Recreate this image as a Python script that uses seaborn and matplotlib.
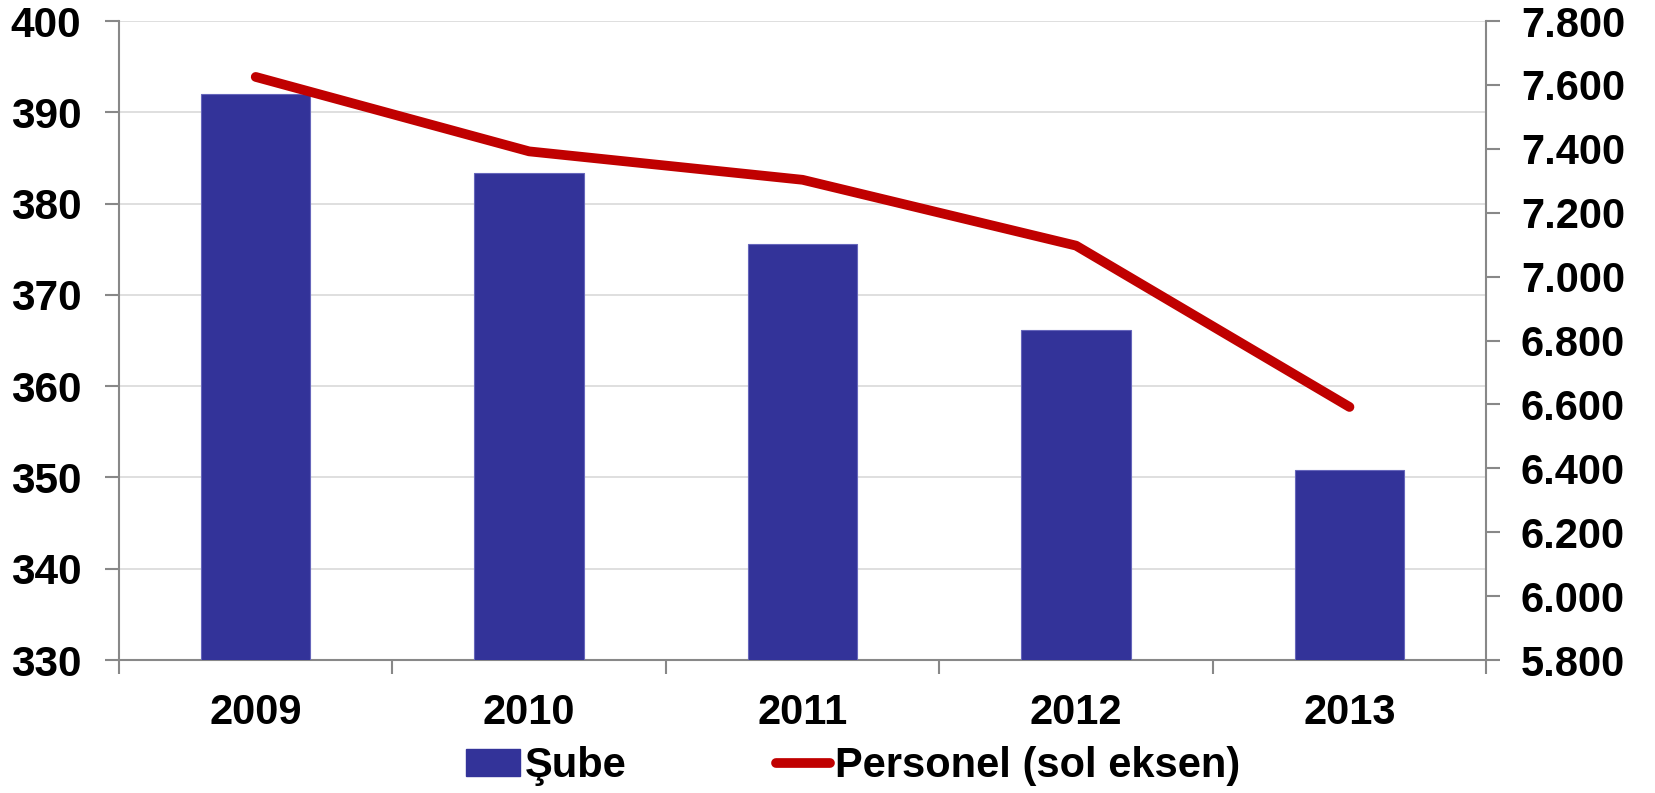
import numpy as np
import pandas as pd
import matplotlib
matplotlib.use("Agg")
import matplotlib.pyplot as plt
import seaborn as sns
from matplotlib.patches import Patch
from matplotlib.lines import Line2D
from matplotlib.ticker import FuncFormatter, FixedLocator

# ---- data ----
years = ["2009", "2010", "2011", "2012", "2013"]
sube = [392.0, 383.3, 375.6, 366.1, 350.8]
personel = [7625, 7392, 7303, 7097, 6592]
left_ticks = [330, 340, 350, 360, 370, 380, 390, 400]
right_ticks = [5800, 6000, 6200, 6400, 6600, 6800, 7000, 7200, 7400, 7600, 7800]
labels = ["Şube", "Personel (sol eksen)"]

BAR = "#333399"
LINE = "#C00000"
SPINE = "#888888"
GRID = "#D9D9D9"

sns.set_theme(style="white")
plt.rcParams["font.family"] = ["Liberation Sans", "DejaVu Sans"]
plt.rcParams["font.weight"] = "bold"
plt.rcParams["text.color"] = "black"

df = pd.DataFrame({"year": years, "sube": sube, "personel": personel})

fig = plt.figure(figsize=(16.55, 7.93), dpi=100)
ax = fig.add_axes([0.0719, 0.1677, 0.898 - 0.0719, 0.9735 - 0.1677])
ax2 = ax.twinx()

sns.barplot(data=df, x="year", y="sube", ax=ax, color=BAR, width=0.4,
            saturation=1, edgecolor="#6666BB", linewidth=0.8, zorder=3)
ax.set_ylim(330, 400)
ax.set_xlim(-0.5, len(years) - 0.5)
ax.yaxis.set_major_locator(FixedLocator(left_ticks))
ax.grid(axis="y", color=GRID, linewidth=1.2, zorder=0)
ax.set_axisbelow(True)

sns.pointplot(data=df, x="year", y="personel", ax=ax2, color=LINE,
              markers="", linewidth=7, solid_capstyle="round", errorbar=None)
ax2.set_ylim(5800, 7800)
ax2.set_xlim(-0.5, len(years) - 0.5)
ax2.yaxis.set_major_locator(FixedLocator(right_ticks))
ax2.yaxis.set_major_formatter(FuncFormatter(lambda v, p: f"{v:,.0f}".replace(",", ".")))
ax2.grid(False)

for a in (ax, ax2):
    a.set_xlabel("")
    a.set_ylabel("")
    for s in a.spines.values():
        s.set_visible(False)

ax.spines["left"].set_visible(True)
ax.spines["bottom"].set_visible(True)
ax.spines["left"].set_color(SPINE)
ax.spines["bottom"].set_color(SPINE)
ax.spines["left"].set_linewidth(1.5)
ax.spines["bottom"].set_linewidth(1.5)
ax2.spines["right"].set_visible(True)
ax2.spines["right"].set_color(SPINE)
ax2.spines["right"].set_linewidth(1.5)

# x ticks: labels at centres, tick marks at category boundaries
ax.set_xticks(range(len(years)))
ax.set_xticklabels(years)
ax.set_xticks(np.arange(-0.5, len(years), 1.0), minor=True)
ax.tick_params(axis="x", which="major", length=0, pad=24, labelsize=30, labelcolor="black")
ax.tick_params(axis="x", which="minor", length=10, width=1.5, color=SPINE, direction="out", bottom=True)
ax.tick_params(axis="y", which="major", length=10, width=1.5, color=SPINE, direction="out",
               left=True, pad=17, labelsize=30.5, labelcolor="black")
ax2.tick_params(axis="y", which="major", length=10, width=1.5, color=SPINE, direction="out",
                right=True, pad=15, labelsize=30, labelcolor="black")
ax2.tick_params(axis="x", bottom=False, labelbottom=False)
for lab in ax.get_xticklabels() + ax.get_yticklabels() + ax2.get_yticklabels():
    lab.set_fontweight("bold")

handles = [Patch(facecolor=BAR, edgecolor=BAR),
           Line2D([0], [0], color=LINE, linewidth=7, solid_capstyle="round")]
leg = fig.legend(handles, labels, loc="center", bbox_to_anchor=(0.5154, 0.034), ncol=2,
                 frameon=False, prop={"size": 30, "weight": "bold"}, handlelength=1.3,
                 handleheight=0.6, handletextpad=0.1, columnspacing=3.6, borderpad=0,
                 labelcolor="black")

fig.savefig("out.png", dpi=100)
